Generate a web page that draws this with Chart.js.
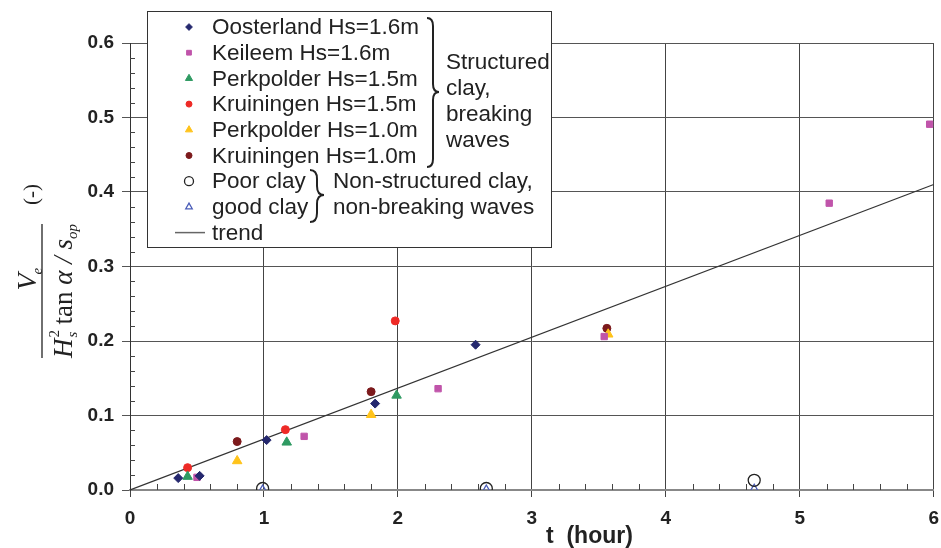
<!DOCTYPE html>
<html>
<head>
<meta charset="utf-8">
<script src="https://cdn.jsdelivr.net/npm/chart.js@4.4.1/dist/chart.umd.min.js"></script>
<style>
  html, body { margin: 0; padding: 0; background: #fff; }
  #wrap { width: 941px; height: 548px; }
</style>
</head>
<body>
<div id="wrap"><canvas id="erosion-canvas" width="941" height="548"></canvas></div>
<script>
// t (hour) and dimensionless erosion volume
const tOosterland = [0.36, 0.52, 1.02, 1.83, 2.58]
const vOosterland = [0.016, 0.019, 0.067, 0.116, 0.195]

const tKeileem = [0.50, 1.30, 2.30, 3.54, 5.22, 5.97]
const vKeileem = [0.017, 0.072, 0.136, 0.206, 0.385, 0.491]

const tPerkpolder15 = [0.43, 1.17, 1.99]
const vPerkpolder15 = [0.018, 0.064, 0.127]

const tKruiningen15 = [0.43, 1.16, 1.98]
const vKruiningen15 = [0.030, 0.081, 0.227]

const tPerkpolder10 = [0.80, 1.80, 3.57]
const vPerkpolder10 = [0.039, 0.101, 0.209]

const tKruiningen10 = [0.80, 1.80, 3.56]
const vKruiningen10 = [0.065, 0.132, 0.217]

const tPoorClay = [0.99, 2.66, 4.66]
const vPoorClay = [0.002, 0.002, 0.013]

const tGoodClay = [0.99, 2.66, 4.66]
const vGoodClay = [0.0, 0.0, 0.001]

const tTrend = [0, 6]
const vTrend = [0, 0.41]

const xTicks = [0, 1, 2, 3, 4, 5, 6]
const yTicks = [0.0, 0.1, 0.2, 0.3, 0.4, 0.5, 0.6]

const pts = (xs, ys) => xs.map((x, i) => ({ x: x, y: ys[i] }))

// curly brace pointing right
function drawBrace(ctx, x, y1, y2, ym, w) {
  const h = w / 2
  ctx.beginPath()
  ctx.moveTo(x, y1)
  ctx.quadraticCurveTo(x + h, y1, x + h, y1 + h + 2)
  ctx.lineTo(x + h, ym - h - 2)
  ctx.quadraticCurveTo(x + h, ym, x + w, ym)
  ctx.quadraticCurveTo(x + h, ym, x + h, ym + h + 2)
  ctx.lineTo(x + h, y2 - h - 2)
  ctx.quadraticCurveTo(x + h, y2, x, y2)
  ctx.stroke()
}

const minorTicks = {
  id: "minorTicks",
  beforeDatasetsDraw(chart) {
    const { ctx, chartArea: a, scales } = chart
    ctx.save()
    ctx.strokeStyle = "#444"
    ctx.lineWidth = 1
    ctx.beginPath()
    for (let i = 1; i < 30; i++) {
      if (i % 5 === 0) continue
      const y = Math.round(scales.y.getPixelForValue(i * 0.02)) + 0.5
      ctx.moveTo(a.left, y)
      ctx.lineTo(a.left + 5, y)
      const x = Math.round(scales.x.getPixelForValue(i * 0.2)) + 0.5
      ctx.moveTo(x, a.bottom)
      ctx.lineTo(x, a.bottom - 6)
    }
    ctx.stroke()
    ctx.restore()
  },
}

const titles = {
  id: "titles",
  afterDraw(chart) {
    const { ctx, scales } = chart
    ctx.save()
    // x title
    ctx.fillStyle = "#222"
    ctx.font = "bold 23px 'Liberation Sans', Arial"
    ctx.textAlign = "center"
    ctx.textBaseline = "alphabetic"
    ctx.fillText("t  (hour)", scales.x.getPixelForValue(3.43), 543)

    // y title: V_e / (H_s^2 tan α / s_op)  (-), rotated
    ctx.translate(42, 290)
    ctx.rotate(-Math.PI / 2)
    ctx.textAlign = "left"
    const serifI = (s) => "italic " + s + "px 'Liberation Serif', 'Times New Roman', serif"
    const serif = (s) => s + "px 'Liberation Serif', 'Times New Roman', serif"

    // numerator
    ctx.font = serifI(28)
    const vw = ctx.measureText("V").width
    let nx = 12 - (vw + 8) / 2
    ctx.fillText("V", nx, -6)
    ctx.font = serifI(15)
    ctx.fillText("e", nx + vw - 1, 0)

    // fraction bar
    ctx.strokeStyle = "#222"
    ctx.lineWidth = 1.3
    ctx.beginPath()
    ctx.moveTo(-68, 0)
    ctx.lineTo(66, 0)
    ctx.stroke()

    // denominator
    let dx = -68
    const base = 30
    ctx.font = serifI(27)
    ctx.fillText("H", dx, base)
    dx += ctx.measureText("H").width + 1
    ctx.font = serif(15)
    ctx.fillText("2", dx, base - 13)
    ctx.font = serifI(15)
    ctx.fillText("s", dx, base + 5)
    dx += 13
    ctx.font = serif(27)
    ctx.fillText("tan", dx, base)
    dx += ctx.measureText("tan ").width
    ctx.font = serifI(27)
    ctx.fillText("\u03b1 / s", dx, base)
    dx += ctx.measureText("\u03b1 / s").width
    ctx.font = serifI(15)
    ctx.fillText("op", dx, base + 5)

    // units
    ctx.font = serif(21)
    ctx.fillText("(-)", 85, -4)
    ctx.restore()
  },
}

const legendBox = {
  id: "legendBox",
  afterDraw(chart) {
    const { ctx } = chart
    const ds = chart.data.datasets
    ctx.save()
    ctx.fillStyle = "#fff"
    ctx.fillRect(147, 11, 405, 237)
    ctx.strokeStyle = "#333"
    ctx.lineWidth = 1
    ctx.strokeRect(147.5, 11.5, 404, 236)

    ctx.font = "22.5px 'Liberation Sans', Arial"
    ctx.textBaseline = "middle"
    ctx.textAlign = "left"
    const y0 = 27, dy = 25.7
    ds.forEach((d, i) => {
      const y = y0 + i * dy
      if (d.type === "line") {
        ctx.strokeStyle = "#666"
        ctx.lineWidth = 1.5
        ctx.beginPath()
        ctx.moveTo(175, y)
        ctx.lineTo(205, y)
        ctx.stroke()
      } else {
        ctx.fillStyle = d.backgroundColor
        ctx.strokeStyle = d.borderColor
        ctx.lineWidth = d.borderWidth
        Chart.helpers.drawPoint(ctx, {
          pointStyle: d.pointStyle,
          radius: d.pointRadius * 0.75,
          rotation: 0,
          borderWidth: d.borderWidth,
        }, 189, y)
      }
      ctx.fillStyle = "#222"
      ctx.fillText(d.label, 212, y + 1)
    })

    // group braces and captions
    ctx.strokeStyle = "#222"
    ctx.lineWidth = 2
    drawBrace(ctx, 427, 18, 167, 92, 12)
    drawBrace(ctx, 310, 170, 222, 195, 14)
    ctx.fillStyle = "#222"
    ;["Structured", "clay,", "breaking", "waves"].forEach((s, i) => ctx.fillText(s, 446, 63 + i * 26))
    ctx.fillText("Non-structured clay,", 333, 182)
    ctx.fillText("non-breaking waves", 333, 208)
    ctx.restore()
  },
}

const canvas = document.getElementById("erosion-canvas")
new Chart(canvas, {
  type: "scatter",
  data: {
    datasets: [
      { label: "Oosterland Hs=1.6m", data: pts(tOosterland, vOosterland), pointStyle: "rectRot", pointRadius: 4.5,
        backgroundColor: "#25286e", borderColor: "#25286e", borderWidth: 1 },
      { label: "Keileem Hs=1.6m", data: pts(tKeileem, vKeileem), pointStyle: "rect", pointRadius: 4.5,
        backgroundColor: "#c054aa", borderColor: "#c054aa", borderWidth: 1 },
      { label: "Perkpolder Hs=1.5m", data: pts(tPerkpolder15, vPerkpolder15), pointStyle: "triangle", pointRadius: 5.5,
        backgroundColor: "#2e9a62", borderColor: "#2e9a62", borderWidth: 1 },
      { label: "Kruiningen Hs=1.5m", data: pts(tKruiningen15, vKruiningen15), pointStyle: "circle", pointRadius: 4,
        backgroundColor: "#ee2a26", borderColor: "#ee2a26", borderWidth: 1 },
      { label: "Perkpolder Hs=1.0m", data: pts(tPerkpolder10, vPerkpolder10), pointStyle: "triangle", pointRadius: 5.5,
        backgroundColor: "#ffc31a", borderColor: "#ffc31a", borderWidth: 1 },
      { label: "Kruiningen Hs=1.0m", data: pts(tKruiningen10, vKruiningen10), pointStyle: "circle", pointRadius: 4,
        backgroundColor: "#7c1a1c", borderColor: "#7c1a1c", borderWidth: 1 },
      { label: "Poor clay", data: pts(tPoorClay, vPoorClay), pointStyle: "circle", pointRadius: 6,
        backgroundColor: "rgba(255,255,255,0)", borderColor: "#222", borderWidth: 1.3 },
      { label: "good clay", data: pts(tGoodClay, vGoodClay), pointStyle: "triangle", pointRadius: 5,
        backgroundColor: "rgba(255,255,255,0)", borderColor: "#4a5cb8", borderWidth: 1.3 },
      { type: "line", label: "trend", data: pts(tTrend, vTrend), borderColor: "#333", borderWidth: 1.2,
        pointRadius: 0, fill: false, tension: 0 },
    ],
  },
  options: {
    responsive: false,
    animation: false,
    layout: { padding: { top: 43, right: 6, left: 0, bottom: 0 } },
    plugins: {
      legend: { display: false },
      tooltip: { enabled: false },
    },
    scales: {
      x: {
        type: "linear",
        min: 0,
        max: 6,
        afterFit: (s) => { s.height = 58; s.paddingLeft = 0; s.paddingRight = 0 },
        afterBuildTicks: (s) => { s.ticks = xTicks.map((v) => ({ value: v })) },
        ticks: { color: "#222", font: { family: "'Liberation Sans', Arial", size: 19, weight: "bold" }, padding: 10, maxRotation: 0 },
        grid: { color: "#444", lineWidth: 1, tickLength: 7, drawTicks: true },
        border: { color: "#888", width: 2 },
      },
      y: {
        min: 0,
        max: 0.6,
        afterFit: (s) => { s.width = 130; s.paddingTop = 0; s.paddingBottom = 0 },
        afterBuildTicks: (s) => { s.ticks = yTicks.map((v) => ({ value: v })) },
        ticks: {
          color: "#222",
          font: { family: "'Liberation Sans', Arial", size: 19, weight: "bold" },
          padding: 8,
          callback: (v) => Number(v).toFixed(1),
        },
        grid: { color: "#555", lineWidth: 1, tickLength: 8, drawTicks: true },
        border: { color: "#333", width: 1 },
      },
    },
  },
  plugins: [minorTicks, titles, legendBox],
})
</script>
</body>
</html>
